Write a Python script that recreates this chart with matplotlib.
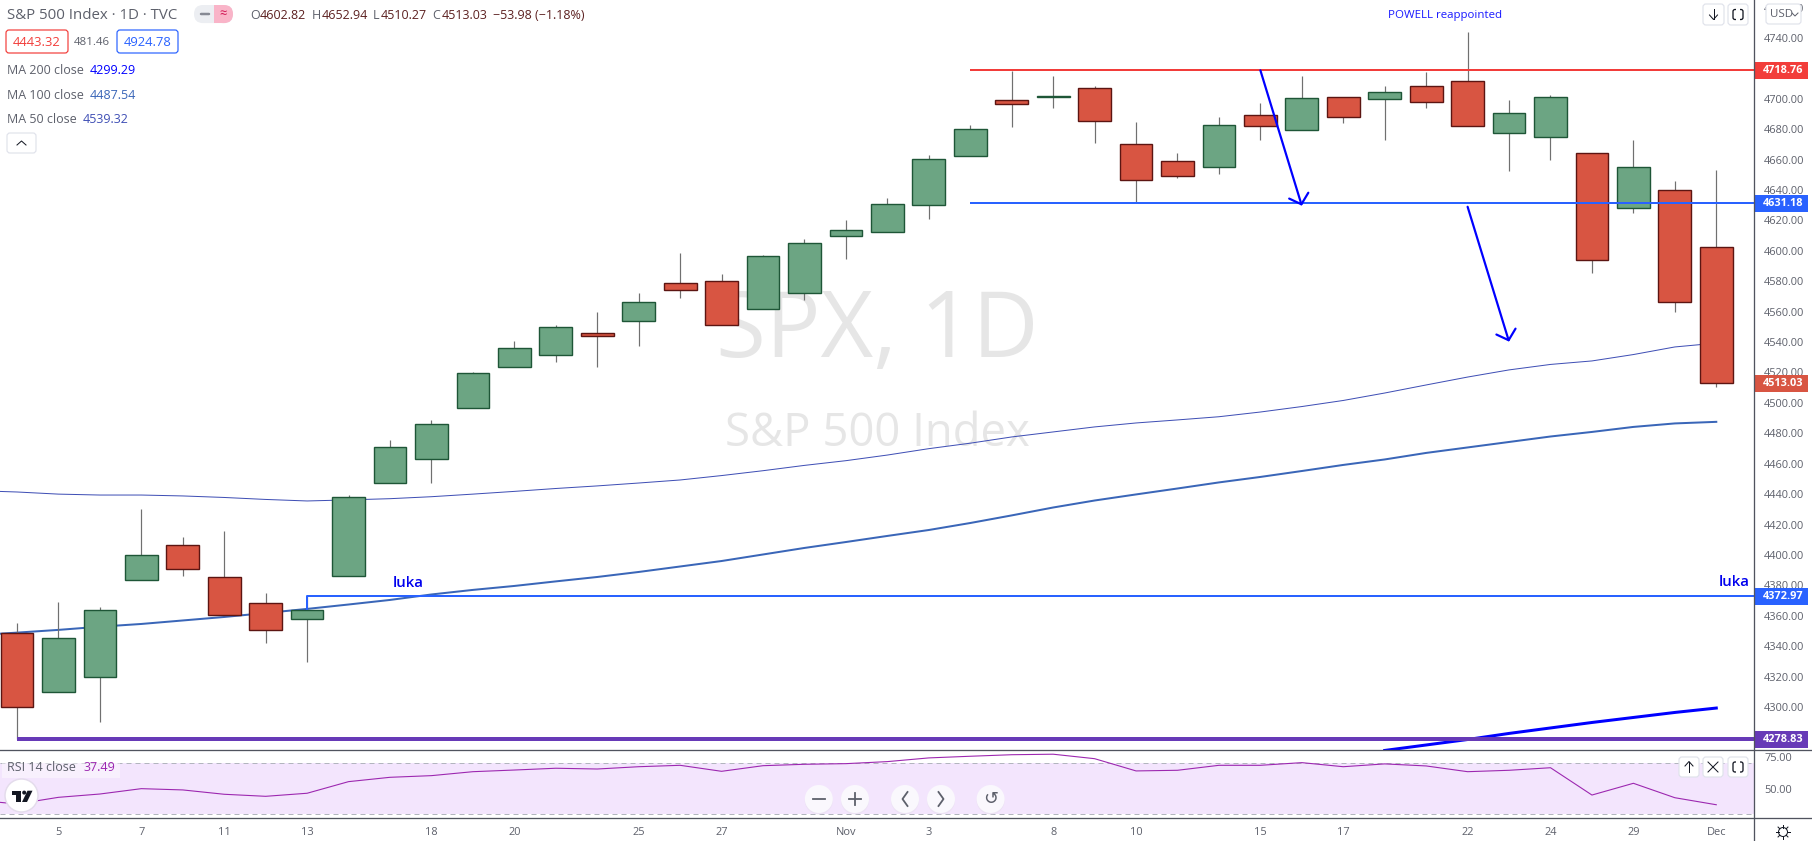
import matplotlib
matplotlib.use("Agg")
import matplotlib.pyplot as plt
import numpy as np
from matplotlib.patches import Circle, FancyBboxPatch, Polygon, Rectangle

plt.rcParams["font.family"] = ["Open Sans", "DejaVu Sans"]

W, H = 1812, 841
PX = 0.72  # one pixel in points at dpi 100

opens = [4348.5, 4309.7, 4319.5, 4383.3, 4406.4, 4385.3, 4368.2, 4357.7, 4386.4, 4447.1, 4463.3, 4496.9, 4523.8, 4531.7,
         4545.8, 4553.7, 4578.7, 4580.0, 4562.0, 4572.5, 4610.0, 4612.6, 4630.4, 4662.6, 4699.0, 4701.0, 4706.9, 4670.1,
         4658.9, 4655.0, 4689.2, 4679.3, 4701.0, 4700.1, 4708.2, 4711.5, 4677.7, 4675.1, 4664.2, 4628.4, 4639.8, 4602.82]
highs = [4355.0, 4368.9, 4365.6, 4430.2, 4411.8, 4415.8, 4374.8, 4373.0, 4439.4, 4475.4, 4488.6, 4520.3, 4540.7, 4551.2,
         4559.8, 4572.3, 4598.6, 4584.8, 4597.0, 4607.6, 4620.3, 4634.8, 4662.9, 4682.8, 4718.5, 4715.0, 4708.2, 4684.8,
         4664.4, 4688.0, 4697.3, 4715.0, 4701.0, 4708.2, 4717.6, 4743.9, 4699.2, 4702.5, 4664.2, 4672.9, 4646.0, 4652.94]
lows = [4278.8, 4309.7, 4290.3, 4383.3, 4386.4, 4360.7, 4342.3, 4329.8, 4386.4, 4447.1, 4447.5, 4496.9, 4523.8, 4526.9,
        4523.8, 4537.6, 4569.2, 4551.4, 4562.0, 4567.7, 4594.9, 4612.6, 4621.2, 4662.6, 4681.5, 4694.0, 4671.1, 4631.3,
        4648.1, 4650.8, 4672.9, 4679.3, 4684.3, 4673.1, 4694.0, 4682.3, 4652.5, 4659.8, 4585.4, 4625.1, 4559.8, 4510.27]
closes = [4300.2, 4345.2, 4363.6, 4399.8, 4391.0, 4360.7, 4350.5, 4363.6, 4438.0, 4470.8, 4485.9, 4519.5, 4535.9, 4549.7,
          4544.2, 4566.2, 4574.5, 4551.4, 4596.4, 4605.0, 4613.5, 4630.6, 4660.2, 4680.0, 4696.8, 4701.8, 4685.2, 4646.4,
          4649.0, 4682.6, 4682.3, 4700.3, 4688.2, 4704.3, 4697.7, 4682.3, 4690.5, 4701.0, 4594.2, 4655.0, 4566.6, 4513.03]

# MA and RSI lists start one bar off the left edge
line_idx = list(range(-1, 42))
ma50 = [4442.3, 4441.4, 4440.0, 4439.4, 4439.4, 4438.8, 4437.8, 4436.5, 4435.5, 4436.2, 4437.0, 4438.3, 4440.0, 4441.8, 4443.7,
        4445.4, 4447.3, 4449.3, 4452.2, 4455.4, 4458.9, 4462.0, 4465.7, 4469.9, 4473.5, 4477.6, 4480.9, 4484.2, 4486.8,
        4488.8, 4490.9, 4494.0, 4497.6, 4501.6, 4506.5, 4511.8, 4517.0, 4521.7, 4525.3, 4527.6, 4531.8, 4536.8, 4539.32]
ma100 = [4347.2, 4348.9, 4350.7, 4352.8, 4354.6, 4356.9, 4359.2, 4361.8, 4364.5, 4367.4, 4370.4, 4374.0, 4377.0, 4379.6, 4382.6,
         4385.5, 4388.8, 4392.4, 4396.0, 4400.3, 4404.6, 4408.5, 4412.5, 4416.4, 4421.0, 4426.0, 4431.2, 4435.8, 4439.8,
         4443.7, 4447.7, 4451.3, 4455.2, 4459.2, 4462.8, 4467.1, 4470.7, 4474.3, 4477.9, 4480.9, 4484.2, 4486.5, 4487.54]
# only the last bars of the 200 MA are on screen
ma200_idx = [33, 34, 35, 36, 37, 38, 39, 40, 41]
ma200 = [4271.4, 4275.0, 4278.6, 4282.6, 4286.2, 4289.8, 4293.1, 4296.4, 4299.29]

rsi = [41.2, 38.1, 43.3, 45.9, 50.1, 49.1, 45.7, 44.1, 46.5, 55.6, 59.0, 60.3, 63.4, 64.7, 66.1, 65.5, 67.3, 68.4, 63.7,
       68.1, 69.2, 69.7, 71.3, 74.2, 75.5, 76.7, 77.1, 73.6, 64.0, 64.5, 68.4, 68.4, 70.5, 67.3, 69.5, 67.9, 63.4, 64.5,
       66.5, 45.1, 54.3, 43.0, 37.49]

date_idx = [1, 3, 5, 7, 10, 12, 15, 17, 20, 22, 25, 27, 30, 32, 35, 37, 39, 41]
date_labels = ["5", "7", "11", "13", "18", "20", "25", "27", "Nov", "3", "8", "10", "15", "17", "22", "24", "29", "Dec"]
price_ticks = list(range(4300, 4761, 20))
rsi_ticks = [50, 75]

RED_LEVEL = 4718.76
BLUE_LEVEL = 4631.18
LUKA_LEVEL = 4372.97
PURPLE_LEVEL = 4278.83
LAST_PRICE = 4513.03

UP, UP_EDGE = "#6ca583", "#1e5637"
DOWN, DOWN_EDGE = "#d85542", "#5c1512"
GREY = "#5d606b"
LINE_BLUE = "#2962ff"
ARROW_BLUE = "#0000ff"

fig = plt.figure(figsize=(W / 100, H / 100), dpi=100, facecolor="white")

# main price pane
ax = fig.add_axes([0, 1 - 750 / H, 1754 / W, 750 / H])
x = np.arange(len(closes))
ax.set_xlim(-0.41, 41.91)
ax.set_ylim(4271.7, 4765.0)

ax.text(0.5, 1 - 333 / 750, "SPX, 1D", transform=ax.transAxes, ha="center", va="center",
        fontsize=91 * PX, color="#e6e6e6", zorder=0)
ax.text(0.5, 1 - 434 / 750, "S&P 500 Index", transform=ax.transAxes, ha="center", va="center",
        fontsize=45.5 * PX, color="#e6e6e6", zorder=0)

ax.plot(line_idx, ma50, color="#3f4fb5", lw=1 * PX, zorder=1)
ax.plot(line_idx, ma100, color="#3a66b8", lw=2 * PX, zorder=1)
ax.plot(ma200_idx, ma200, color="#0000ff", lw=3 * PX, zorder=1)

ax.vlines(x, lows, highs, color="#707070", lw=1.2 * PX, zorder=2)
for i in x:
    up = closes[i] >= opens[i]
    ax.bar(i, abs(closes[i] - opens[i]), bottom=min(opens[i], closes[i]), width=0.79,
           color=UP if up else DOWN, edgecolor=UP_EDGE if up else DOWN_EDGE, linewidth=1.4 * PX, zorder=3)

ax.plot([23, 41.91], [RED_LEVEL, RED_LEVEL], color="#f23d3a", lw=2 * PX, zorder=4, solid_capstyle="butt")
ax.plot([23, 41.91], [BLUE_LEVEL, BLUE_LEVEL], color=LINE_BLUE, lw=2 * PX, zorder=4, solid_capstyle="butt")
ax.plot([7, 7, 41.91], [4363.6, LUKA_LEVEL, LUKA_LEVEL], color=LINE_BLUE, lw=2 * PX, zorder=4, solid_capstyle="butt")
ax.plot([0, 41.91], [PURPLE_LEVEL, PURPLE_LEVEL], color="#673ab7", lw=4 * PX, zorder=4, solid_capstyle="butt")

for (x0, y0), (x1, y1) in [((30.0, 4718.76), (31.0, 4629.7)), ((35.0, 4629.0), (36.0, 4540.3))]:
    ax.annotate("", xy=(x1, y1), xytext=(x0, y0), zorder=5,
                arrowprops=dict(arrowstyle="->,head_length=0.65,head_width=0.72", color=ARROW_BLUE,
                                lw=2.2 * PX, shrinkA=0, shrinkB=0, mutation_scale=10))

ax.text(34.46, 4754.7, "POWELL reappointed", color="#1a1aff", fontsize=11.5 * PX, ha="center", va="center", zorder=5)
ax.text(9.07, 4381.6, "luka", color="#0000ee", fontsize=15 * PX, fontweight="semibold", ha="left", va="center", zorder=5)
ax.text(41.07, 4382.0, "luka", color="#0000ee", fontsize=15 * PX, fontweight="semibold", ha="left", va="center", zorder=5)

for side in ["top", "left", "bottom", "right"]:
    ax.spines[side].set_visible(False)
ax.set_xticks([])
ax.yaxis.tick_right()
ax.set_yticks(price_ticks)
ax.set_yticklabels([f"{p:.2f}" for p in price_ticks])
ax.tick_params(axis="y", length=0, pad=7.2, labelsize=11 * PX, labelcolor=GREY)

# price tags on the scale
tag_tr = ax.get_yaxis_transform()
for price, col in [(RED_LEVEL, "#f23d3a"), (BLUE_LEVEL, LINE_BLUE), (LAST_PRICE, DOWN),
                   (LUKA_LEVEL, LINE_BLUE), (PURPLE_LEVEL, "#673ab7")]:
    ax.add_patch(Rectangle((1.0, price - 5.6), 54 / 1754, 11.2, transform=tag_tr, facecolor=col,
                           edgecolor="none", clip_on=False, zorder=6))
    ax.text(1 + 29 / 1754, price, f"{price:.2f}", transform=tag_tr, color="white", fontsize=11 * PX,
            fontweight="bold", ha="center", va="center", clip_on=False, zorder=7)

# RSI pane
rx = fig.add_axes([0, 1 - 818 / H, 1754 / W, 68 / H])
rx.set_xlim(-0.41, 41.91)
rx.set_ylim(27.1, 80.4)
rx.axhspan(30, 70, color="#f3e5fd", lw=0, zorder=0)
rx.axhline(70, color="#b2b5be", lw=1 * PX, ls=(0, (5, 4)), zorder=1)
rx.axhline(30, color="#b2b5be", lw=1 * PX, ls=(0, (5, 4)), zorder=1)
rx.plot(line_idx, rsi, color="#9c27b0", lw=1.1 * PX, zorder=2)
for side in ["top", "left", "bottom", "right"]:
    rx.spines[side].set_visible(False)
rx.yaxis.tick_right()
rx.set_yticks(rsi_ticks)
rx.set_yticklabels([f"{v:.2f}" for v in rsi_ticks])
rx.set_xticks(date_idx)
rx.set_xticklabels(date_labels)
rx.tick_params(axis="y", length=0, pad=7.2, labelsize=11 * PX, labelcolor=GREY)
rx.tick_params(axis="x", length=0, pad=6.5, labelsize=11 * PX, labelcolor=GREY)

# everything that is screen furniture, in pixels
ui = fig.add_axes([0, 0, 1, 1], zorder=10)
ui.set_xlim(0, W)
ui.set_ylim(H, 0)
ui.axis("off")
ui.patch.set_visible(False)

ui.plot([0, W], [750, 750], color="#50535e", lw=1.3 * PX)
ui.plot([0, W], [818, 818], color="#50535e", lw=1.3 * PX)
ui.plot([1754, 1754], [0, H], color="#50535e", lw=1.3 * PX)


def txt(px, py, s, color=GREY, size=13, **kw):
    kw.setdefault("ha", "left")
    ui.text(px, py, s, color=color, fontsize=size * PX, va="center", **kw)


def box(x0, y0, x1, y1, edge="#e0e3eb", face="white", lw=1.2, r=3):
    ui.add_patch(FancyBboxPatch((x0 + r, y0 + r), x1 - x0 - 2 * r, y1 - y0 - 2 * r, boxstyle=f"round,pad={r},rounding_size={r}",
                                facecolor=face, edgecolor=edge, lw=lw * PX))


# legend
txt(7, 15, "S&P 500 Index · 1D · TVC", size=15)
ui.add_patch(FancyBboxPatch((203, 5 + 9), 21, 0.1, boxstyle="round,pad=9,rounding_size=9", facecolor="#eceef2", edgecolor="none"))
ui.add_patch(FancyBboxPatch((223, 5 + 9), 1, 0.1, boxstyle="round,pad=9,rounding_size=9", facecolor="#f9b4c8", edgecolor="none"))
ui.add_patch(Rectangle((214, 5), 9, 18, facecolor="#f9b4c8", edgecolor="none"))
ui.plot([201, 209], [14, 14], color="#868993", lw=2.5 * PX, solid_capstyle="round")
txt(223, 14, "≈", color="#d0104f", size=13, ha="center")
ohlc_vals = "#5c2020"
for px, letter, val in [(250, "O", "4602.82"), (312, "H", "4652.94"), (373, "L", "4510.27"), (432, "C", "4513.03")]:
    txt(px, 15.5, letter, size=12.5)
    txt(px + (9.5 if letter != "L" else 7.5), 15.5, val, color=ohlc_vals, size=12.5)
txt(493, 15.5, "−53.98 (−1.18%)", color=ohlc_vals, size=12.5)

box(6, 30, 68, 53, edge="#f23d3a")
txt(37, 42, "4443.32", color="#f23d3a", size=13, ha="center")
txt(92, 42, "481.46", size=11.5, ha="center")
box(117, 30, 178, 53, edge=LINE_BLUE)
txt(147.5, 42, "4924.78", color=LINE_BLUE, size=13, ha="center")

txt(7, 70.5, "MA 200 close", size=12.5)
txt(90, 70.5, "4299.29", color="#0000ff", size=12.5)
txt(7, 95, "MA 100 close", size=12.5)
txt(90, 95, "4487.54", color="#3a66b8", size=12.5)
txt(7, 119, "MA 50 close", size=12.5)
txt(83, 119, "4539.32", color="#3f4fb5", size=12.5)
box(7, 133, 36, 153)
ui.plot([17, 21.5, 26], [145, 141, 145], color="#131722", lw=1 * PX)

# top right buttons
box(1703, 4, 1724, 25)
ui.plot([1713.5, 1713.5], [9, 19], color="#131722", lw=1 * PX)
ui.plot([1709.5, 1713.5, 1717.5], [15, 19.5, 15], color="#131722", lw=1 * PX)
box(1728, 4, 1748, 25)
box(1733, 9.5, 1743, 19.5, edge="#131722", lw=1.3, r=2)
ui.add_patch(Rectangle((1736, 7), 4, 15, facecolor="white", edgecolor="none"))
box(1766, 4, 1801, 24)
txt(1770, 14, "USD", size=11.5)
ui.plot([1792, 1795, 1798], [13, 16, 13], color=GREY, lw=1 * PX)

# rsi legend and logo
ui.add_patch(Rectangle((2, 762), 118, 16, facecolor="white", alpha=0.45, edgecolor="none"))
txt(7, 767.5, "RSI 14 close", size=12.5)
txt(83.5, 767.5, "37.49", color="#9c27b0", size=12.5)
ui.add_patch(Circle((21.5, 795.5), 16.5, facecolor="white", edgecolor="#e4dcec", lw=1.5 * PX))
ui.add_patch(Polygon([(11.5, 790.7), (21, 790.7), (21, 802), (15.5, 802), (15.5, 794.5), (11.5, 794.5)], facecolor="#131722"))
ui.add_patch(Circle((24.2, 792.6), 2, facecolor="#131722"))
ui.add_patch(Polygon([(27.5, 790.7), (32.5, 790.7), (27, 802), (22, 802)], facecolor="#131722"))

# navigation buttons in the rsi pane
for cx in [818.8, 855, 905, 941, 990.6]:
    ui.add_patch(Circle((cx, 800.5), 14, facecolor="#e8e0ee", edgecolor="none", alpha=0.6))
    ui.add_patch(Circle((cx, 799), 14, facecolor="#faf8fd", edgecolor="none"))
ui.plot([813, 825], [799, 799], color=GREY, lw=1.8 * PX)
ui.plot([849, 861], [799, 799], color=GREY, lw=1.8 * PX)
ui.plot([855, 855], [793, 805], color=GREY, lw=1.8 * PX)
ui.plot([907.5, 902.5, 907.5], [792, 799, 806], color=GREY, lw=1.8 * PX)
ui.plot([938.5, 943.5, 938.5], [792, 799, 806], color=GREY, lw=1.8 * PX)
ui.text(990.6, 799, "↺", color=GREY, fontsize=18 * PX, ha="center", va="center", family="DejaVu Sans")

# pane buttons
for x0 in [1679, 1703, 1728]:
    box(x0, 757, x0 + 20, 777)
ui.plot([1689, 1689], [762, 772], color="#131722", lw=1 * PX)
ui.plot([1685, 1689, 1693], [766, 761.5, 766], color="#131722", lw=1 * PX)
ui.plot([1708, 1718], [762, 772], color="#131722", lw=1 * PX)
ui.plot([1708, 1718], [772, 762], color="#131722", lw=1 * PX)
box(1733, 762, 1743, 772, edge="#131722", lw=1.3, r=2)
ui.add_patch(Rectangle((1736, 760), 4, 14, facecolor="white", edgecolor="none"))

# settings gear
ui.add_patch(Circle((1783, 832), 4.5, facecolor="none", edgecolor="#131722", lw=1 * PX))
for a in np.arange(0, 2 * np.pi, np.pi / 4):
    ui.plot([1783 + 4.5 * np.cos(a), 1783 + 7 * np.cos(a)], [832 + 4.5 * np.sin(a), 832 + 7 * np.sin(a)],
            color="#131722", lw=1 * PX)

fig.savefig("out.png", dpi=100)
